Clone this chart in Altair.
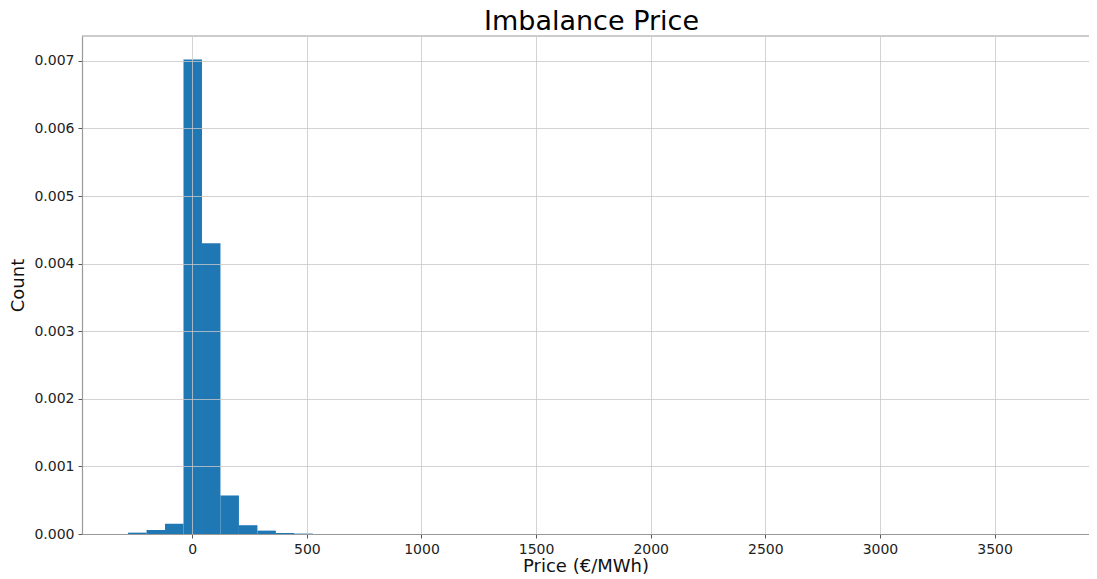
import altair as alt
import pandas as pd

# Histogram (density) of imbalance price, 50 bins from -280 to ~3750; only visible bins listed
bin_start = [-280.0, -199.4, -118.8, -38.2, 42.4, 123.0, 203.6, 284.2, 364.8, 445.4]
bin_end = [-199.4, -118.8, -38.2, 42.4, 123.0, 203.6, 284.2, 364.8, 445.4, 526.0]
density = [0.00002, 0.00006, 0.00015, 0.00702, 0.00430, 0.00057, 0.00013, 0.00005, 0.000015, 0.000006]

x_ticks = [0, 500, 1000, 1500, 2000, 2500, 3000, 3500]
y_ticks = [0.000, 0.001, 0.002, 0.003, 0.004, 0.005, 0.006, 0.007]

df = pd.DataFrame({"start": bin_start, "end": bin_end, "density": density})

FONT = "DejaVu Sans"
W = 1007
H = 498

bars = (
    alt.Chart(df)
    .mark_rect(color="#1f77b4", strokeWidth=0)
    .encode(
        x=alt.X(
            "start:Q",
            scale=alt.Scale(domain=[-481, 3912], nice=False, zero=False),
            axis=alt.Axis(
                values=x_ticks,
                title="Price (€/MWh)",
                format="d",
                titleFontSize=18,
                titleFontWeight="normal",
                titleBaseline="alphabetic",
                titlePadding=15,
                labelFontSize=14,
                labelPadding=4,
                tickSize=4,
                grid=True,
                zindex=1,
            ),
        ),
        x2="end:Q",
        y=alt.Y(
            "density:Q",
            scale=alt.Scale(domain=[0, 0.007368], nice=False),
            axis=alt.Axis(
                values=y_ticks,
                format=".3f",
                title="Count",
                titleFontSize=18,
                titleFontWeight="normal",
                titlePadding=6,
                labelFontSize=14,
                labelPadding=4,
                tickSize=4,
                grid=True,
                zindex=1,
            ),
        ),
        y2=alt.value(H),
    )
)

# top spine of the axes frame (right spine falls outside the reference image)
top_spine = (
    alt.Chart(pd.DataFrame({"k": [0]}))
    .mark_rule(color="#999999", strokeWidth=1.2)
    .encode(x=alt.value(0), x2=alt.value(W), y=alt.value(0))
)

chart = (
    alt.layer(bars, top_spine)
    .properties(
        width=W,
        height=H,
        title=alt.TitleParams(
            "Imbalance Price", fontSize=27, font=FONT, fontWeight="normal", color="#000",
            offset=2, dx=6, dy=3,
        ),
        autosize=alt.AutoSizeParams(type="none"),
        padding={"left": 74, "top": 28, "right": 0, "bottom": 43},
    )
    .configure(font=FONT)
    .configure_axis(
        gridColor="#c8c8c8",
        gridWidth=0.8,
        domainColor="#999999",
        domainWidth=1.2,
        tickColor="#555555",
        labelColor="#222222",
        titleColor="#111111",
        labelFont=FONT,
        titleFont=FONT,
    )
    .configure_view(stroke=None)
)

chart.save("out.html", embed_options={"renderer": "svg", "actions": False})
